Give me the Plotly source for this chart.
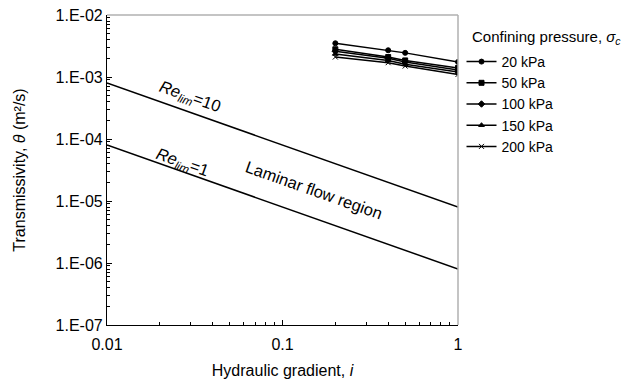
import plotly.graph_objects as go

gradient = [0.2, 0.4, 0.5, 1.0]
series_names = ["20 kPa", "50 kPa", "100 kPa", "150 kPa", "200 kPa"]
theta_20 = [3.5e-3, 2.7e-3, 2.45e-3, 1.75e-3]
theta_50 = [2.8e-3, 2.1e-3, 1.85e-3, 1.4e-3]
theta_100 = [2.6e-3, 2.0e-3, 1.75e-3, 1.3e-3]
theta_150 = [2.35e-3, 1.85e-3, 1.6e-3, 1.2e-3]
theta_200 = [2.1e-3, 1.7e-3, 1.5e-3, 1.1e-3]
series_values = [theta_20, theta_50, theta_100, theta_150, theta_200]
symbols = ["circle", "square", "diamond", "triangle-up", "x-thin"]

re_x = [0.01, 1.0]
re10_y = [8e-4, 8e-6]
re1_y = [8e-5, 8e-7]

y_tickvals = [1e-7, 1e-6, 1e-5, 1e-4, 1e-3, 1e-2]
y_ticktext = ["1.E-07", "1.E-06", "1.E-05", "1.E-04", "1.E-03", "1.E-02"]
x_tickvals = [0.01, 0.1, 1]
x_ticktext = ["0.01", "0.1", "1"]

FONT = "Liberation Sans, Arial, sans-serif"

fig = go.Figure()

fig.add_trace(go.Scatter(x=re_x, y=re10_y, mode="lines", line=dict(color="black", width=1.5),
                         showlegend=False, hoverinfo="skip"))
fig.add_trace(go.Scatter(x=re_x, y=re1_y, mode="lines", line=dict(color="black", width=1.5),
                         showlegend=False, hoverinfo="skip"))

for name, vals, sym in zip(series_names, series_values, symbols):
    fig.add_trace(go.Scatter(
        x=gradient, y=vals, mode="lines+markers", name=name,
        line=dict(color="black", width=1.5),
        marker=dict(symbol=sym, size=5, color="black",
                    line=dict(color="black", width=1)),
    ))

minor_style = dict(ticks="inside", ticklen=3, tickcolor="black", dtick="D1", showgrid=False)

fig.update_xaxes(
    type="log", range=[-2, 0], tickvals=x_tickvals, ticktext=x_ticktext,
    showline=True, linecolor="black", linewidth=1.2,
    ticks="inside", ticklen=5, tickcolor="black",
    minor=minor_style, ticklabelstandoff=5,
    showgrid=False, zeroline=False,
    tickfont=dict(family=FONT, size=16, color="black"),
    title=dict(text="Hydraulic gradient, <i>i</i>", font=dict(family=FONT, size=16, color="black"),
               standoff=12),
)
fig.update_yaxes(
    type="log", range=[-7, -2], tickvals=y_tickvals, ticktext=y_ticktext,
    showline=True, linecolor="black", linewidth=1.2,
    ticks="inside", ticklen=5, tickcolor="black",
    minor=minor_style,
    showgrid=False, zeroline=False,
    tickfont=dict(family=FONT, size=16, color="black"),
    title=dict(text="Transmissivity, <i>θ</i> (m²/s)", font=dict(family=FONT, size=16, color="black"),
               standoff=25),
)

# light grey top/right frame
fig.add_shape(type="line", xref="paper", yref="paper", x0=0, x1=1, y0=1, y1=1,
              line=dict(color="#b0b0b0", width=1.5))
fig.add_shape(type="line", xref="paper", yref="paper", x0=1, x1=1, y0=0, y1=1,
              line=dict(color="#b0b0b0", width=1.5))

ann_font = dict(family=FONT, size=16.5, color="black")
fig.add_annotation(x=-1.527, y=-3.323, xref="x", yref="y",
                   text="<i>Re</i><sub><i>lim</i></sub>=10", showarrow=False,
                   textangle=19.5, font=ann_font)
fig.add_annotation(x=-1.567, y=-4.387, xref="x", yref="y",
                   text="<i>Re</i><sub><i>lim</i></sub>=1", showarrow=False,
                   textangle=19.5, font=ann_font)
fig.add_annotation(x=-0.82, y=-4.823, xref="x", yref="y",
                   text="Laminar flow region", showarrow=False,
                   textangle=19.5, font=ann_font)

# legend title
fig.add_annotation(x=1.034, y=0.926, xref="paper", yref="paper", xanchor="left", yanchor="middle",
                   text="Confining pressure, <i>σ</i><sub><i>c</i></sub>", showarrow=False,
                   font=dict(family=FONT, size=15, color="black"))

fig.update_layout(
    width=628, height=386,
    margin=dict(l=107, r=170, t=15, b=61, autoexpand=False),
    paper_bgcolor="white", plot_bgcolor="white",
    font=dict(family=FONT, size=14, color="black"),
    legend=dict(
        x=1.01, y=0.90, xanchor="left", yanchor="top",
        font=dict(family=FONT, size=14, color="black"),
        itemwidth=30, tracegroupgap=0, bgcolor="rgba(0,0,0,0)",
    ),
)

fig.write_html("out.html")
